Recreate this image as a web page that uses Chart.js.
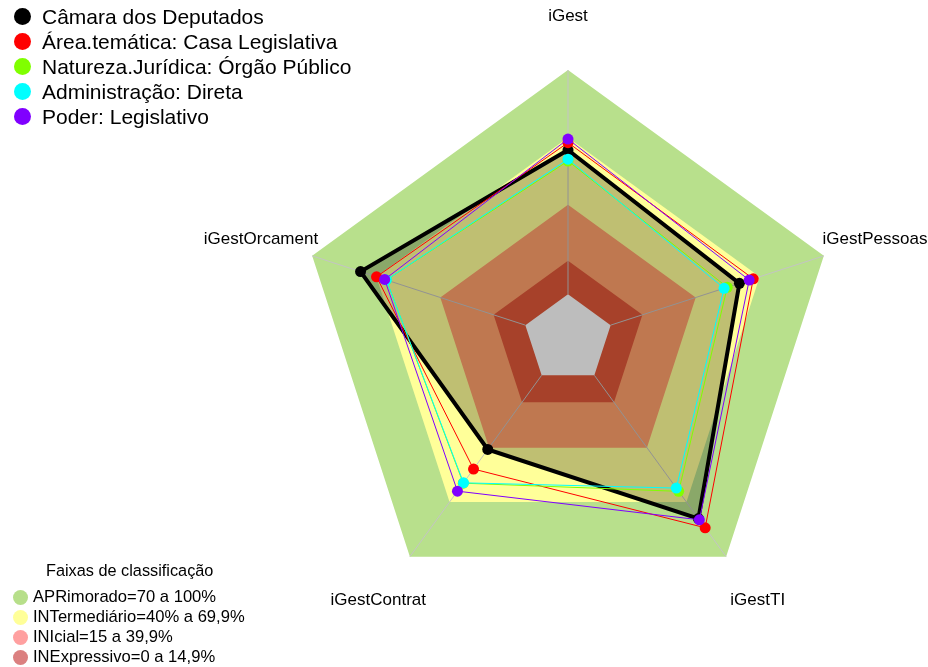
<!DOCTYPE html>
<html>
<head>
<meta charset="utf-8">
<script src="https://cdn.jsdelivr.net/npm/chart.js@4"></script>
<style>
    body { margin: 0; background: #fff; font-family: 'Liberation Sans', Arial, sans-serif; color: #000; }
    #caixa { position: relative; width: 928px; height: 667px; }
    .item { position: absolute; left: 0; white-space: nowrap; }
    .bola { position: absolute; border-radius: 50%; }
</style>
</head>
<body>
<div id="caixa">
    <canvas id="meu_radar"></canvas>
    <div id="legenda_series"></div>
    <div id="legenda_faixas"></div>
</div>
<script>
const eixos = ['iGest', 'iGestPessoas', 'iGestTI', 'iGestContrat', 'iGestOrcament'];

const nomesSeries = [
    'Câmara dos Deputados',
    'Área.temática: Casa Legislativa',
    'Natureza.Jurídica: Órgão Público',
    'Administração: Direta',
    'Poder: Legislativo'
];
const camara = [64.3, 60.4, 79.0, 40.9, 77.3];
const areaTematica = [67.6, 66.9, 84.1, 51.7, 69.8];
const naturezaJuridica = [59.4, 54.7, 64.0, 59.5, 65.2];
const administracao = [60.2, 53.2, 62.2, 59.3, 65.2];
const poder = [69.2, 65.0, 79.7, 63.9, 66.0];
const valoresSeries = [camara, areaTematica, naturezaJuridica, administracao, poder];
const coresSeries = ['#000000', '#ff0000', '#80ff00', '#00ffff', '#8000ff'];

const nomesFaixas = ['APRimorado=70 a 100%', 'INTermediário=40% a 69,9%', 'INIcial=15 a 39,9%', 'INExpressivo=0 a 14,9%'];
const limitesFaixas = [100, 69.9, 39.9, 14.9, 0]; // ultimo = miolo cinza
const coresFaixas = ['#b8e08c', '#ffff99', '#ffa06b', '#df5738', '#fdfdfd'];
const coresLegendaFaixas = ['#b7df8a', '#ffff99', '#ffa0a0', '#db8080'];

// legendas em HTML
const legSeries = document.getElementById('legenda_series');
nomesSeries.forEach((nome, i) => {
    const y = 16 + i * 25.2;
    legSeries.insertAdjacentHTML('beforeend',
        `<div class="item" style="top:${y - 12.5}px;height:25px;line-height:25px;font-size:21px;padding-left:42px">` +
        `<span class="bola" style="left:14px;top:4px;width:17px;height:17px;background:${coresSeries[i]}"></span>${nome}</div>`);
});
const legFaixas = document.getElementById('legenda_faixas');
legFaixas.insertAdjacentHTML('beforeend',
    `<div class="item" style="top:560px;height:20px;line-height:20px;font-size:16.3px;left:46px">Faixas de classificação</div>`);
nomesFaixas.forEach((nome, i) => {
    const y = 597 + i * 20;
    legFaixas.insertAdjacentHTML('beforeend',
        `<div class="item" style="top:${y - 10}px;height:20px;line-height:20px;font-size:16.6px;padding-left:33px">` +
        `<span class="bola" style="left:13px;top:2.5px;width:15px;height:15px;background:${coresLegendaFaixas[i]}"></span>${nome}</div>`);
});

// eixos radiais e rotulos desenhados pela escala do Chart.js
const indiceMiolo = valoresSeries.length + limitesFaixas.length - 1;
const pluginEixos = {
    id: 'eixos',
    afterDatasetDraw(chart, args) {
        if (args.index !== indiceMiolo) return;
        const r = chart.scales.r;
        const ctx = chart.ctx;
        ctx.save();
        ctx.strokeStyle = '#c4c4c4';
        ctx.lineWidth = 1;
        eixos.forEach((e, i) => {
            const a = r.getPointPositionForValue(i, 0);
            const b = r.getPointPositionForValue(i, 100);
            ctx.beginPath();
            ctx.moveTo(a.x, a.y);
            ctx.lineTo(b.x, b.y);
            ctx.stroke();
        });
        ctx.restore();
    },
    afterDraw(chart) {
        const r = chart.scales.r;
        const ctx = chart.ctx;
        ctx.save();
        ctx.font = "17px 'Liberation Sans', Arial, sans-serif";
        ctx.fillStyle = '#000';
        ctx.textAlign = 'center';
        ctx.textBaseline = 'middle';
        eixos.forEach((e, i) => {
            const p = r.getPointPositionForValue(i, 124);
            ctx.fillText(e, p.x, p.y);
        });
        ctx.restore();
    }
};

const datasets = valoresSeries.map((valores, i) => ({
    label: nomesSeries[i],
    data: valores,
    borderColor: coresSeries[i],
    borderWidth: i === 0 ? 4 : 1,
    backgroundColor: i === 0 ? 'rgba(0,0,0,0.25)' : 'transparent',
    fill: i === 0 ? 'start' : false,
    pointRadius: 5.5,
    pointBackgroundColor: coresSeries[i],
    pointBorderWidth: 0,
    order: valoresSeries.length - 1 - i
}));
limitesFaixas.forEach((lim, j) => {
    datasets.push({
        label: 'faixa' + j,
        data: eixos.map(() => lim),
        borderWidth: 0,
        borderColor: 'transparent',
        backgroundColor: coresFaixas[j],
        fill: 'start',
        pointRadius: 0,
        order: 10 - j
    });
});

const ctx = document.getElementById('meu_radar').getContext('2d');
const radar = new Chart(ctx, {
    type: 'radar',
    data: { labels: eixos, datasets: datasets },
    options: {
        responsive: true,
        maintainAspectRatio: false,
        animation: false,
        layout: { padding: { left: 299, right: 91, top: 70, bottom: 59 } },
        elements: { line: { tension: 0 } },
        plugins: { legend: { display: false }, tooltip: { enabled: false } },
        scales: {
            r: {
                min: -20,
                max: 100,
                ticks: { display: false },
                grid: { display: false },
                angleLines: { display: false },
                pointLabels: { display: false }
            }
        }
    },
    plugins: [pluginEixos]
});
</script>
</body>
</html>
